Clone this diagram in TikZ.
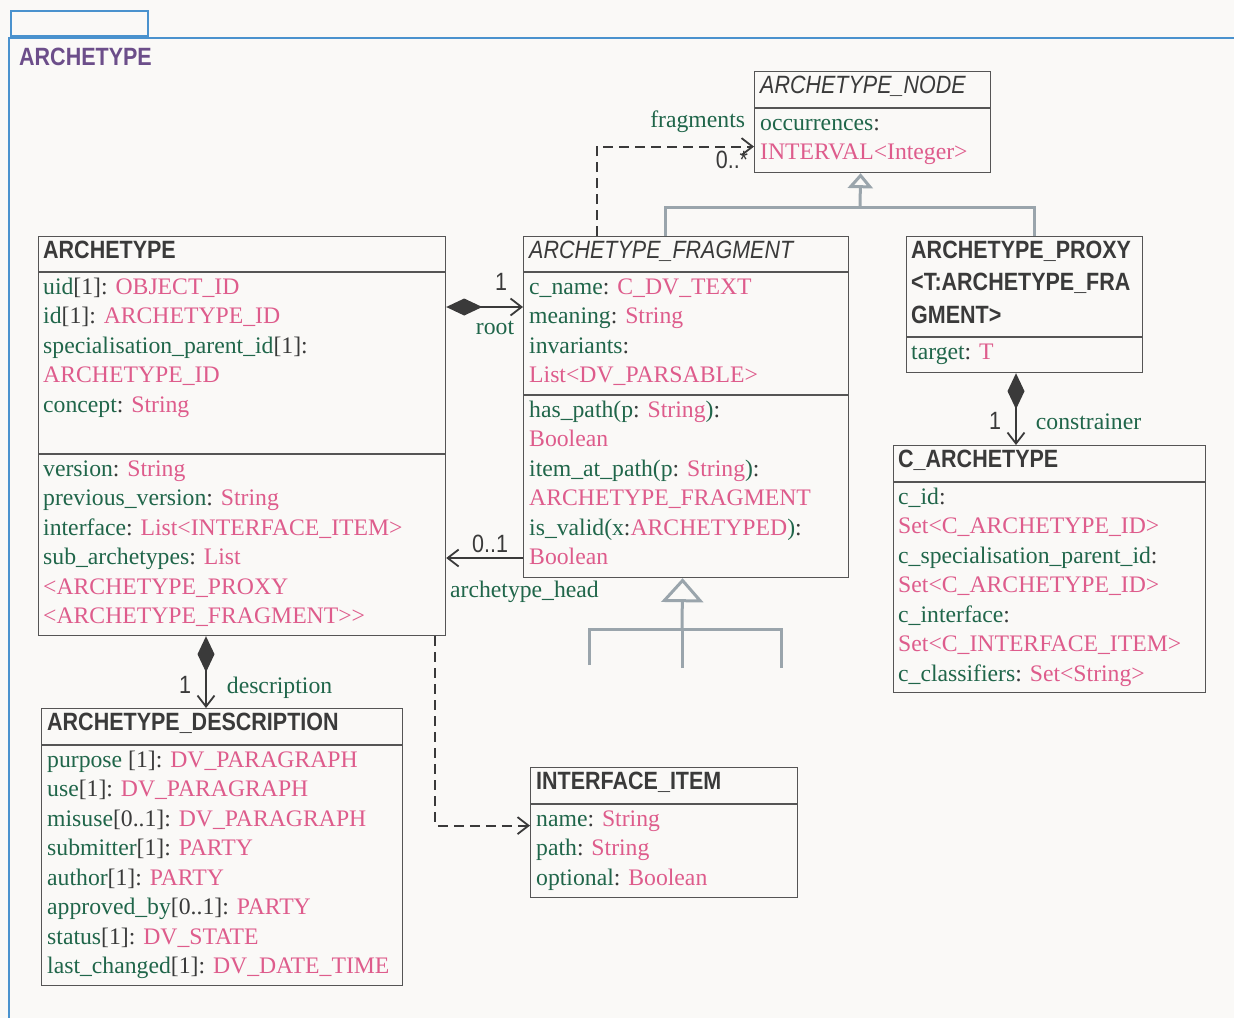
\documentclass[tikz,border=0pt]{standalone}
\usepackage{fontspec}
\setmainfont{Liberation Serif}
\newfontfamily\titlefont[FakeStretch=0.86]{Liberation Sans}
\usetikzlibrary{arrows.meta}

\definecolor{bgpaper}{RGB}{250,249,247}
\definecolor{pkgblue}{RGB}{74,146,206}
\definecolor{pkgpurple}{RGB}{108,78,138}
\definecolor{boxgray}{RGB}{85,85,85}
\definecolor{inkgray}{RGB}{58,58,58}
\definecolor{gengray}{RGB}{154,165,172}
\definecolor{attrgreen}{RGB}{32,102,74}
\definecolor{typepink}{RGB}{222,92,140}

\newcommand{\aname}[1]{\textcolor{attrgreen}{#1}}
\newcommand{\tname}[1]{\textcolor{typepink}{#1}}

\tikzset{
  cls/.style={draw=boxgray, line width=1.2pt, anchor=north west, inner sep=0pt},
  divider/.style={draw=boxgray, line width=1.2pt},
  clstitle/.style={anchor=base west, inner sep=0pt, text=inkgray, font=\fontsize{25}{30}\titlefont\bfseries},
  abstitle/.style={clstitle, font=\fontsize{25}{30}\titlefont\itshape},
  attr/.style={anchor=base west, inner sep=0pt, text=inkgray, font=\fontsize{23.7}{29.5}\selectfont},
  mult/.style={inner sep=0pt, text=inkgray, font=\fontsize{25}{30}\titlefont},
  role/.style={inner sep=0pt, text=attrgreen, font=\fontsize{23.7}{29.5}\selectfont},
  assoc/.style={draw=inkgray, line width=1.8pt},
  comp/.style={assoc, {Diamond[length=36pt,width=17pt]}-{Straight Barb[length=11pt,width=17pt]}},
  dep/.style={assoc, dash pattern=on 10pt off 6pt, -{Straight Barb[length=11pt,width=17pt]}},
  gen/.style={draw=gengray, line width=3pt},
}

\begin{document}
\begin{tikzpicture}[x=1pt, y=-1pt]
  \useasboundingbox (0,0) rectangle (1234,1018);
  \fill[bgpaper] (0,0) rectangle (1234,1018);

  % package frame
  \draw[pkgblue, line width=1.6pt] (11,11) rectangle (148,36);
  \draw[pkgblue, line width=1.6pt] (1234,38) -- (9,38) -- (9,1018);
  \node[clstitle, text=pkgpurple] (pkglabel) at (19,65) {ARCHETYPE};

  % class boxes
  \node[cls, minimum width=236pt, minimum height=101pt] (arnode) at (754,71) {};
  \node[cls, minimum width=407pt, minimum height=399pt] (archetype) at (38,236) {};
  \node[cls, minimum width=325pt, minimum height=341pt] (fragment) at (523,236) {};
  \node[cls, minimum width=236pt, minimum height=136pt] (proxy) at (906,236) {};
  \node[cls, minimum width=312pt, minimum height=247pt] (carch) at (893,445) {};
  \node[cls, minimum width=361pt, minimum height=277pt] (descr) at (41,708) {};
  \node[cls, minimum width=267pt, minimum height=130pt] (iface) at (530,767) {};

  \foreach \c/\d in {arnode/37, archetype/36, archetype/218, fragment/36, fragment/159,
                     proxy/101, carch/37, descr/37, iface/37}
    \draw[divider] ([yshift=-\d pt]\c.north west) -- ([yshift=-\d pt]\c.north east);

  % ARCHETYPE_NODE
  \node[abstitle] (arnodeT) at (760,93) {ARCHETYPE\_NODE};
  \node[attr] (arnode-0) at (760,130) {\aname{occurrences}:};
  \node[attr] (arnode-1) at (760,159.5) {\tname{INTERVAL<Integer>}};

  % ARCHETYPE
  \node[clstitle] (archetypeT) at (43,258) {ARCHETYPE};
  \foreach \txt [count=\i from 0] in {{\aname{uid}[1]: \tname{OBJECT\_ID}},
      {\aname{id}[1]: \tname{ARCHETYPE\_ID}},
      {\aname{specialisation\_parent\_id}[1]:},
      {\tname{ARCHETYPE\_ID}},
      {\aname{concept}: \tname{String}}}
    \node[attr] (archetype-a\i) at (43,294+29.5*\i) {\txt};
  \foreach \txt [count=\i from 0] in {{\aname{version}: \tname{String}},
      {\aname{previous\_version}: \tname{String}},
      {\aname{interface}: \tname{List<INTERFACE\_ITEM>}},
      {\aname{sub\_archetypes}: \tname{List}},
      {\tname{<ARCHETYPE\_PROXY}},
      {\tname{<ARCHETYPE\_FRAGMENT>{}>}}}
    \node[attr] (archetype-b\i) at (43,476+29.5*\i) {\txt};

  % ARCHETYPE_FRAGMENT
  \node[abstitle] (fragmentT) at (529,258) {ARCHETYPE\_FRAGMENT};
  \foreach \txt [count=\i from 0] in {{\aname{c\_name}: \tname{C\_DV\_TEXT}},
      {\aname{meaning}: \tname{String}},
      {\aname{invariants}:},
      {\tname{List<DV\_PARSABLE>}}}
    \node[attr] (fragment-a\i) at (529,294+29.5*\i) {\txt};
  \foreach \txt [count=\i from 0] in {{\aname{has\_path(p}: \tname{String}\aname{)}:},
      {\tname{Boolean}},
      {\aname{item\_at\_path(p}: \tname{String}\aname{)}:},
      {\tname{ARCHETYPE\_FRAGMENT}},
      {\aname{is\_valid(x}:\tname{ARCHETYPED}\aname{)}:},
      {\tname{Boolean}}}
    \node[attr] (fragment-b\i) at (529,417+29.5*\i) {\txt};

  % ARCHETYPE_PROXY
  \node[clstitle] (proxyT1) at (911,258) {ARCHETYPE\_PROXY};
  \node[clstitle] (proxyT2) at (911,290.5) {<T:ARCHETYPE\_FRA};
  \node[clstitle] (proxyT3) at (911,323) {GMENT>};
  \node[attr] (proxy-a0) at (911,359) {\aname{target}: \tname{T}};

  % C_ARCHETYPE
  \node[clstitle] (carchT) at (898,467) {C\_ARCHETYPE};
  \foreach \txt [count=\i from 0] in {{\aname{c\_id}:},
      {\tname{Set<C\_ARCHETYPE\_ID>}},
      {\aname{c\_specialisation\_parent\_id}:},
      {\tname{Set<C\_ARCHETYPE\_ID>}},
      {\aname{c\_interface}:},
      {\tname{Set<C\_INTERFACE\_ITEM>}},
      {\aname{c\_classifiers}: \tname{Set<String>}}}
    \node[attr] (carch-a\i) at (898,504+29.5*\i) {\txt};

  % ARCHETYPE_DESCRIPTION
  \node[clstitle] (descrT) at (47,730) {ARCHETYPE\_DESCRIPTION};
  \foreach \txt [count=\i from 0] in {{\aname{purpose} [1]: \tname{DV\_PARAGRAPH}},
      {\aname{use}[1]: \tname{DV\_PARAGRAPH}},
      {\aname{misuse}[0..1]: \tname{DV\_PARAGRAPH}},
      {\aname{submitter}[1]: \tname{PARTY}},
      {\aname{author}[1]: \tname{PARTY}},
      {\aname{approved\_by}[0..1]: \tname{PARTY}},
      {\aname{status}[1]: \tname{DV\_STATE}},
      {\aname{last\_changed}[1]: \tname{DV\_DATE\_TIME}}}
    \node[attr] (descr-a\i) at (47,767+29.5*\i) {\txt};

  % INTERFACE_ITEM
  \node[clstitle] (ifaceT) at (536,789) {INTERFACE\_ITEM};
  \foreach \txt [count=\i from 0] in {{\aname{name}: \tname{String}},
      {\aname{path}: \tname{String}},
      {\aname{optional}: \tname{Boolean}}}
    \node[attr] (iface-a\i) at (536,826+29.5*\i) {\txt};

  % generalisation
  \coordinate (topjoin) at (860,207);
  \draw[gen] ([xshift=-20.5pt]fragment.north) |- (topjoin) -| ([xshift=10pt]proxy.north);
  \draw[gen, -{Triangle[open,length=15pt,width=25pt]}] (topjoin) -- ([xshift=-12pt]arnode.south);

  \coordinate (subjoin) at (682,629);
  \coordinate (subleft) at (589,665);
  \coordinate (submid) at (682,668);
  \coordinate (subright) at (781,668);
  \draw[gen] (subleft) |- (subjoin) -| (subright);
  \draw[gen] (submid) -- (subjoin);
  \draw[gen, -{Triangle[open,length=24pt,width=42pt]}] (subjoin) -- ([xshift=-3.5pt]fragment.south);

  % associations
  \draw[dep] ([xshift=-89.5pt]fragment.north) |- ([yshift=-24.5pt]arnode.west)
    node[role, anchor=base east, xshift=-8pt, yshift=19pt] (fragmentsrole) {fragments}
    node[mult, anchor=base east, xshift=-5pt, yshift=-22pt] (fragmentsmult) {0..*};
  \draw[comp] ([yshift=-71pt]archetype.north east) -- ([yshift=-71pt]fragment.north west)
    node[mult, anchor=base east, xshift=-15pt, yshift=17pt] (rootmult) {1}
    node[role, anchor=base east, xshift=-8pt, yshift=-27pt] (rootrole) {root};
  \draw[assoc, -{Straight Barb[length=11pt,width=17pt]}] ([yshift=-322pt]fragment.north west) -- ([yshift=-322pt]archetype.north east)
    node[mult, anchor=base west, xshift=25pt, yshift=6pt] (headmult) {0..1}
    node[role, anchor=base west, xshift=3pt, yshift=-39pt] (headrole) {archetype\_head};
  \draw[comp] ([xshift=168pt]archetype.south west) -- ([xshift=168pt]archetype.south west |- descr.north)
    node[mult, anchor=base east, xshift=-14pt, yshift=15pt] (descrmult) {1}
    node[role, anchor=base west, xshift=20pt, yshift=15pt] (descrrole) {description};
  \draw[comp] ([xshift=110pt]proxy.south west) -- ([xshift=110pt]proxy.south west |- carch.north)
    node[mult, anchor=base east, xshift=-14pt, yshift=16pt] (constrmult) {1}
    node[role, anchor=base west, xshift=19pt, yshift=16pt] (constrrole) {constrainer};
  \draw[dep] ([xshift=-11pt]archetype.south east) |- ([yshift=7pt]iface.west);
\end{tikzpicture}
\end{document}
